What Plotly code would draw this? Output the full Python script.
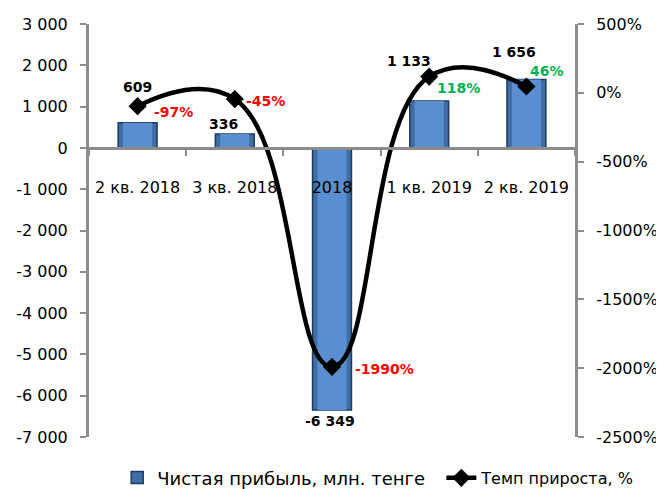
import plotly.graph_objects as go

categories = ["2 кв. 2018", "3 кв. 2018", "2018", "1 кв. 2019", "2 кв. 2019"]
profit = [609, 336, -6349, 1133, 1656]
growth = [-97, -45, -1990, 118, 46]
profit_labels = ["609", "336", "-6 349", "1 133", "1 656"]
growth_labels = ["-97%", "-45%", "-1990%", "118%", "46%"]
growth_colors = ["#FF0000", "#FF0000", "#FF0000", "#00B050", "#00B050"]

left_vals = [3000, 2000, 1000, 0, -1000, -2000, -3000, -4000, -5000, -6000, -7000]
left_text = ["3 000", "2 000", "1 000", "0", "-1 000", "-2 000", "-3 000", "-4 000", "-5 000", "-6 000", "-7 000"]
right_vals = [500, 0, -500, -1000, -1500, -2000, -2500]
right_text = ["500%", "0%", "-500%", "-1000%", "-1500%", "-2000%", "-2500%"]

FONT = "'DejaVu Sans', sans-serif"
AXIS = "#8C8C8C"

fig = go.Figure()
fig.add_trace(go.Bar(
    x=categories, y=profit, name="Чистая прибыль, млн. тенге",
    marker=dict(color="#3F6DA6", line=dict(color="#1F3A60", width=1.5)),
    width=0.4, xaxis="x", yaxis="y", legend="legend",
))
# lighter inner face to suggest the bevelled look
fig.add_trace(go.Bar(
    x=categories, y=profit, showlegend=False, hoverinfo="skip",
    marker=dict(color="#5B8ED0", line=dict(width=0)),
    width=0.3, xaxis="x", yaxis="y",
))
fig.add_trace(go.Scatter(
    x=categories, y=growth, name="Темп прироста, %", xaxis="x", yaxis="y2",
    mode="lines+markers", legend="legend2",
    line=dict(color="black", width=4.5, shape="spline", smoothing=1.3),
    marker=dict(symbol="diamond", size=14, color="black"),
))

idx = list(range(len(categories)))
# profit labels
p_shift = [(0, 36), (-11, 10), (-2, -11), (-20, 40), (-12, 28)]
for i, v, t, (dx, dy) in zip(idx, profit, profit_labels, p_shift):
    fig.add_annotation(x=i, y=v, xref="x", yref="y", text="<b>%s</b>" % t,
                       showarrow=False, xshift=dx, yshift=dy,
                       font=dict(family=FONT, size=14, color="black"))
# growth labels
g_shift = [(14, -6), (9, -2), (21, -2), (6, -11), (2, 16)]
for i, v, t, col, (dx, dy) in zip(idx, growth, growth_labels, growth_colors, g_shift):
    fig.add_annotation(x=i, y=v, xref="x", yref="y2", text="<b>%s</b>" % t,
                       showarrow=False, xshift=dx, yshift=dy, xanchor="left",
                       font=dict(family=FONT, size=14, color=col))

tick_common = dict(showline=True, linecolor=AXIS, linewidth=3,
                   ticks="outside", ticklen=6, tickcolor=AXIS, tickwidth=2,
                   showgrid=False, zeroline=False, automargin=False,
                   tickfont=dict(family=FONT, size=16))

fig.update_layout(
    width=656, height=481,
    margin=dict(l=81, r=89, t=16, b=52, autoexpand=False),
    paper_bgcolor="white", plot_bgcolor="white",
    font=dict(family=FONT, size=16, color="black"),
    showlegend=True,
    barmode="overlay",
    legend=dict(orientation="h", x=0.058, xanchor="left", y=-0.099, yanchor="middle",
                font=dict(family=FONT, size=18), bgcolor="rgba(0,0,0,0)"),
    legend2=dict(orientation="h", x=0.725, xanchor="left", y=-0.099, yanchor="middle",
                 font=dict(family=FONT, size=16), bgcolor="rgba(0,0,0,0)"),
    xaxis=dict(
        type="category", categoryorder="array", categoryarray=categories,
        range=[-0.5, 4.5], anchor="free", position=0.7,
        tickson="boundaries", ticklabelstandoff=24, tickangle=0, **tick_common,
    ),
    yaxis=dict(
        range=[-7000, 3000], tickvals=left_vals, ticktext=left_text,
        ticklabelstandoff=9, **tick_common,
    ),
    yaxis2=dict(
        range=[-2500, 500], tickvals=right_vals, ticktext=right_text,
        overlaying="y", side="right", anchor="x", ticklabelstandoff=9, **tick_common,
    ),
)

fig.write_html("out.html")
